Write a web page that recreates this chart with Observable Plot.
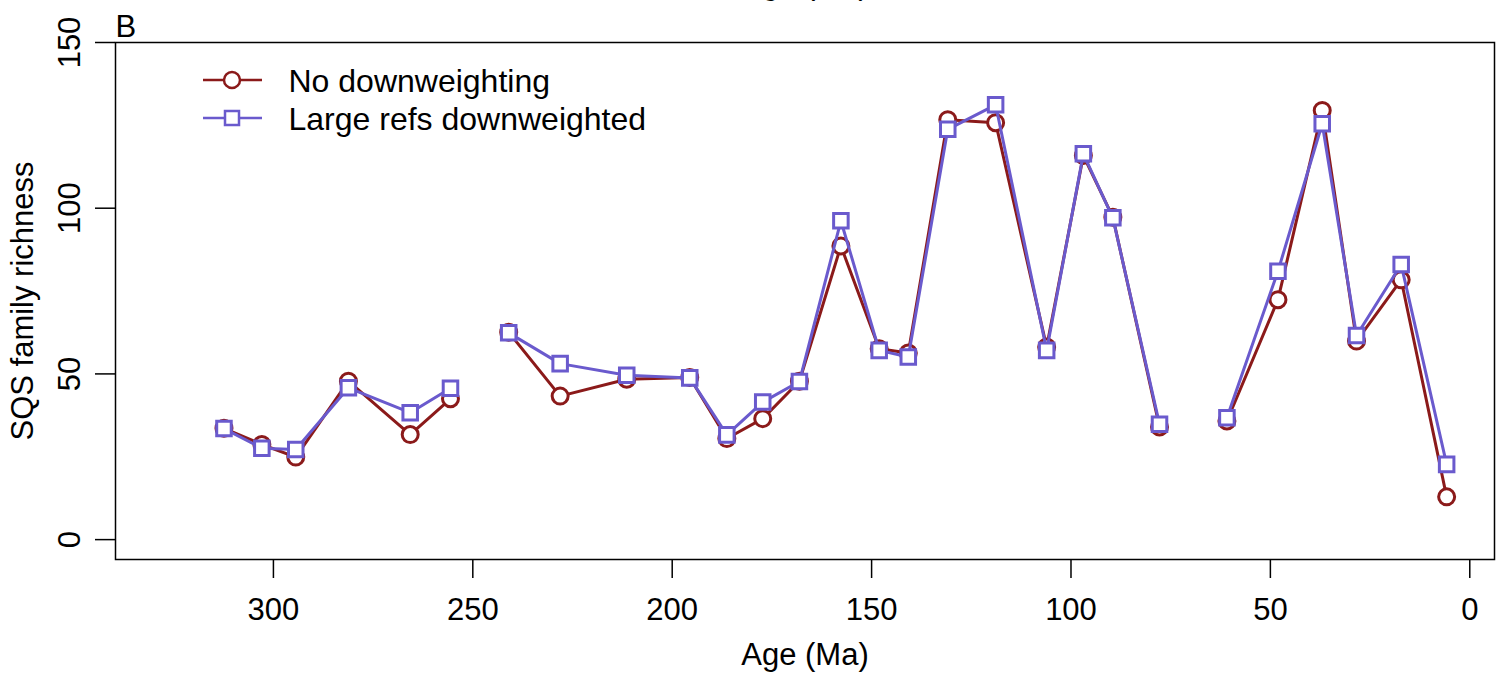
<!DOCTYPE html>
<html>
<head>
<meta charset="utf-8">
<script src="https://cdn.jsdelivr.net/npm/d3@7"></script>
<script src="https://cdn.jsdelivr.net/npm/@observablehq/plot@0.6"></script>
<style>
  html, body { margin: 0; padding: 0; background: #fff; }
  #chart svg { display: block; overflow: hidden; }
</style>
</head>
<body>
<div id="chart"></div>
<script>
// Interval midpoint ages (Ma); null richness marks intervals with no estimate (line breaks)
const ages = [312.4, 302.9, 294.4, 281.2, 265.7, 255.6, 248.5,
              241.0, 228.1, 211.4, 195.6, 186.3, 177.3, 168.1, 157.7, 148.1, 140.8,
              130.9, 118.9, 106.1, 96.9, 89.5, 77.8, 69.5,
              60.9, 48.1, 37.0, 28.4, 17.2, 5.8];

// SQS family richness, no downweighting
const noDownweighting = [33.6, 28.7, 24.9, 47.8, 31.7, 42.5, null,
                         62.6, 43.3, 48.4, 48.9, 30.5, 36.5, 47.8, 88.6, 57.6, 56.3,
                         126.7, 125.8, 58.1, 115.9, 97.3, 34.0, null,
                         35.8, 72.4, 129.5, 59.9, 78.4, 12.9];

// SQS family richness, large references downweighted
const largeRefsDownweighted = [33.5, 27.6, 27.2, 45.8, 38.3, 45.7, null,
                               62.4, 53.1, 49.6, 48.8, 31.6, 41.5, 47.7, 96.2, 57.1, 55.1,
                               123.8, 131.2, 57.1, 116.4, 97.1, 34.8, null,
                               36.8, 81.0, 125.5, 61.6, 83.0, 22.7];

const xTicks = [300, 250, 200, 150, 100, 50, 0];
const yTicks = [0, 50, 100, 150];
const seriesNames = ["No downweighting", "Large refs downweighted"];
const seriesColors = ["#8B1A1A", "#6A5ACD"];

const rows = ages.map((age, i) => ({
  age,
  plain: noDownweighting[i],
  weighted: largeRefsDownweighted[i]
}));

const font = "'Liberation Sans', Arial, Helvetica, sans-serif";

const plot = Plot.plot({
  width: 1503,
  height: 674,
  marginLeft: 115,
  marginRight: 9,
  marginTop: 42,
  marginBottom: 115,
  style: {fontFamily: font, fontSize: "31px", color: "black", background: "white", overflow: "hidden"},
  x: {domain: [339.6, -6.2]},
  y: {domain: [-6, 150]},
  marks: [
    Plot.frame({stroke: "black", strokeWidth: 1.5}),
    Plot.axisX({ticks: xTicks, tickSize: 19, tickPadding: 19, label: null, strokeWidth: 1.5}),
    Plot.axisY({ticks: yTicks, tickSize: 20, tickFormat: () => "", label: null, strokeWidth: 1.5}),
    // rotated y tick labels
    Plot.text(yTicks, {y: d => d, text: d => String(d), frameAnchor: "left", dx: -35.5,
                       rotate: -90, lineAnchor: "bottom", textAnchor: "middle", fill: "black"}),
    Plot.text(["Age (Ma)"], {text: d => d, frameAnchor: "bottom", dy: 105, lineAnchor: "bottom",
                             textAnchor: "middle", fill: "black"}),
    Plot.text(["SQS family richness"], {text: d => d, frameAnchor: "left", dx: -83, rotate: -90,
                                        lineAnchor: "bottom", textAnchor: "middle", fill: "black"}),
    Plot.text(["B"], {text: d => d, frameAnchor: "top-left", dy: -6, lineAnchor: "bottom",
                      textAnchor: "start", fill: "black"}),
    // axis title of the panel above, cut by the top edge
    Plot.text(["Age (Ma)"], {text: d => d, frameAnchor: "top", dy: -48.5, lineAnchor: "bottom",
                             textAnchor: "middle", fill: "black"}),
    // series 1: circles
    Plot.line(rows, {x: "age", y: "plain", stroke: seriesColors[0], strokeWidth: 3}),
    Plot.dot(rows, {x: "age", y: "plain", r: 8, stroke: seriesColors[0], strokeWidth: 3, fill: "white"}),
    // series 2: squares
    Plot.line(rows, {x: "age", y: "weighted", stroke: seriesColors[1], strokeWidth: 3}),
    Plot.dot(rows, {x: "age", y: "weighted", symbol: "square", r: 8.2, stroke: seriesColors[1],
                    strokeWidth: 3, fill: "white"})
  ]
});

// Legend in the top-left corner of the panel
const svg = d3.select(plot);
const legend = svg.append("g")
  .attr("font-family", font)
  .attr("font-size", 32)
  .attr("text-anchor", "start");
const legendRowY = [80, 118];
seriesNames.forEach((name, i) => {
  const g = legend.append("g").attr("transform", `translate(0,${legendRowY[i]})`);
  g.append("line").attr("x1", 203).attr("x2", 262).attr("y1", 0).attr("y2", 0)
    .attr("stroke", seriesColors[i]).attr("stroke-width", 2.5);
  if (i === 0) {
    g.append("circle").attr("cx", 232).attr("cy", 0).attr("r", 8)
      .attr("fill", "white").attr("stroke", seriesColors[i]).attr("stroke-width", 2.5);
  } else {
    g.append("rect").attr("x", 232 - 7).attr("y", -7).attr("width", 14).attr("height", 14)
      .attr("fill", "white").attr("stroke", seriesColors[i]).attr("stroke-width", 2.5);
  }
  g.append("text").attr("x", 288.5).attr("y", 0).attr("dy", "0.36em")
    .attr("text-anchor", "start").attr("fill", "black").text(name);
});

document.getElementById("chart").appendChild(plot);
</script>
</body>
</html>
